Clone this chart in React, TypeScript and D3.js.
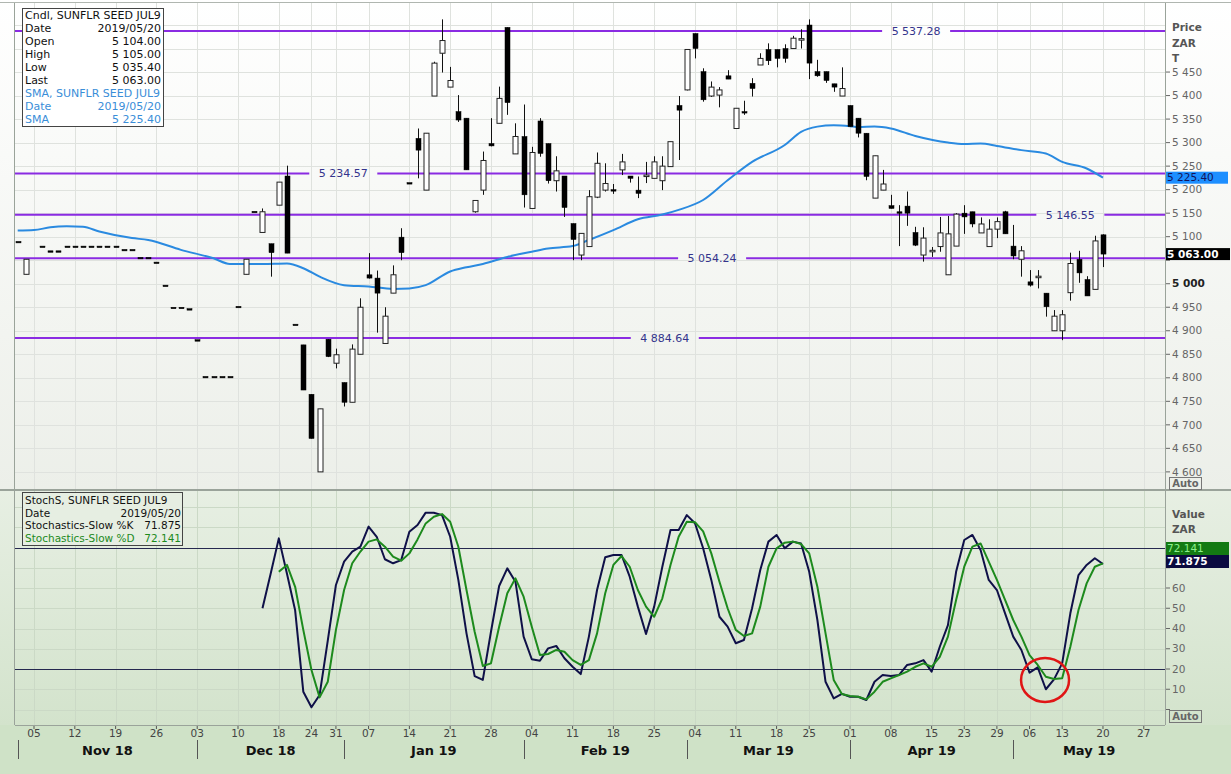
import React from "react";
import * as d3 from "d3";

// ---------- DATA ----------
const HOLIDAYS = ["2018-12-17", "2018-12-25", "2018-12-26", "2019-01-01", "2019-03-21", "2019-04-19", "2019-04-22", "2019-05-01", "2019-05-08"];
const FIRST_DAY = "2018-11-01";
const LAST_CALENDAR_DAY = "2019-06-07";

// Daily candles from 2018-11-01 (one entry per trading day; null = no trade)
const OPEN = [5090, 5020, null, 5080, 5070, 5070, 5080, 5080, 5080, 5080, 5080, 5080, 5080, 5073, 5073, 5056, 5056, 5046, 4997, 4950, 4950, 4947, 4881, 4803, 4803, 4803, 4803, 4952, 5020, 5154, 5109, 5085, 5167, 5229, 4914, 4870, 4765, 4600, 4882, 4831, 4790, 4748, 4850, 5019, 5012, 4873, 4980, 5099, 5215, 5309, 5199, 5399, 5490, 5418, 5366, 5352, 5153, 5199, 5298, 5341, 5545, 5276, 5313, 5160, 5346, 5298, 5219, 5229, 5128, 5061, 5079, 5184, 5199, 5200, 5242, 5229, 5199, 5228, 5224, 5219, 5249, 5379, 5412, 5532, 5451, 5399, 5401, 5442, 5330, 5366, 5426, 5465, 5498, 5498, 5500, 5500, 5518, 5550, 5451, 5451, 5425, 5399, 5379, 5352, 5320, 5182, 5199, 5166, 5153, 5165, 5109, 5061, 5070, 5079, 5019, 5080, 5150, 5153, 5108, 5079, 5116, 5153, 5080, 5052, 5004, 5015, 4980, 4900, 4900, 4981, 5052, 5009, 4988, 5104];
const HIGH = [5090, 5052, null, 5080, 5070, 5070, 5080, 5080, 5080, 5080, 5080, 5080, 5080, 5073, 5073, 5056, 5056, 5046, 4997, 4950, 4950, 4947, 4881, 4803, 4803, 4803, 4803, 4952, 5052, 5154, 5160, 5085, 5216, 5251, 4914, 4870, 4765, 4734, 4882, 4862, 4790, 4871, 4969, 5065, 5028, 4950, 5039, 5118, 5215, 5330, 5320, 5472, 5562, 5461, 5401, 5352, 5177, 5281, 5352, 5419, 5545, 5341, 5381, 5291, 5352, 5298, 5271, 5229, 5128, 5107, 5199, 5279, 5256, 5212, 5276, 5229, 5228, 5259, 5271, 5271, 5302, 5399, 5498, 5532, 5458, 5430, 5418, 5454, 5373, 5389, 5437, 5490, 5511, 5498, 5509, 5527, 5541, 5562, 5476, 5451, 5425, 5460, 5379, 5352, 5320, 5272, 5242, 5189, 5167, 5196, 5121, 5120, 5078, 5142, 5144, 5150, 5167, 5153, 5141, 5137, 5141, 5155, 5125, 5080, 5029, 5029, 4980, 4944, 4944, 5066, 5070, 5016, 5102, 5105];
const LOW = [5090, 5020, null, 5080, 5070, 5070, 5080, 5080, 5080, 5080, 5080, 5080, 5080, 5073, 5073, 5056, 5056, 5046, 4997, 4950, 4950, 4947, 4881, 4803, 4803, 4803, 4803, 4952, 5020, 5154, 5109, 5015, 5167, 5065, 4914, 4774, 4671, 4600, 4844, 4820, 4739, 4748, 4850, 5011, 4896, 4873, 4980, 5050, 5215, 5224, 5199, 5399, 5449, 5418, 5344, 5242, 5151, 5189, 5292, 5341, 5359, 5276, 5162, 5160, 5270, 5213, 5196, 5142, 5050, 5050, 5079, 5182, 5196, 5191, 5231, 5215, 5182, 5214, 5224, 5199, 5249, 5263, 5411, 5479, 5387, 5397, 5375, 5435, 5330, 5359, 5398, 5465, 5465, 5460, 5470, 5500, 5500, 5435, 5440, 5427, 5408, 5399, 5334, 5311, 5220, 5182, 5199, 5160, 5080, 5123, 5080, 5047, 5057, 5068, 5019, 5080, 5106, 5120, 5108, 5079, 5097, 5106, 5052, 5015, 4994, 4990, 4930, 4900, 4880, 4964, 5002, 4974, 4988, 5035.4];
const CLOSE = [5090, 5052, null, 5080, 5070, 5070, 5080, 5080, 5080, 5080, 5080, 5080, 5080, 5073, 5073, 5056, 5056, 5046, 4997, 4950, 4950, 4947, 4881, 4803, 4803, 4803, 4803, 4952, 5052, 5154, 5153, 5066, 5216, 5065, 4914, 4774, 4671, 4734, 4845, 4849, 4748, 4861, 4950, 5012, 4980, 4931, 5019, 5066, 5215, 5284, 5320, 5469, 5517, 5432, 5348, 5242, 5177, 5262, 5293, 5394, 5385, 5313, 5189, 5279, 5277, 5219, 5240, 5162, 5094, 5107, 5185, 5256, 5213, 5199, 5259, 5224, 5192, 5231, 5259, 5250, 5302, 5369, 5498, 5500, 5391, 5418, 5412, 5435, 5373, 5366, 5415, 5479, 5474, 5479, 5479, 5522, 5521, 5469, 5442, 5432, 5418, 5415, 5334, 5320, 5228, 5272, 5212, 5160, 5152, 5150, 5082, 5097, 5071, 5108, 5106, 5148, 5142, 5127, 5127, 5116, 5132, 5106, 5059, 5070, 4997, 5016, 4951, 4931, 4934, 5043, 5023, 4974, 5091, 5063];

// Simple moving average, read at these trading-day numbers
const SMA_DAY = [0, 2, 4, 6, 8, 10, 14, 16, 20, 24, 26, 30, 33, 35, 37, 40, 43, 46, 48, 50, 53, 55, 57, 60, 63, 65, 68, 70, 73, 76, 79, 81, 84, 87, 90, 94, 96, 98, 100, 102, 103, 105, 107, 110, 114, 116, 118, 120, 123, 126, 128, 131, 133];
const SMA_VAL = [5113, 5114, 5120, 5122, 5121, 5111, 5097, 5093, 5072, 5054, 5042, 5042, 5043, 5033, 5015, 4997, 4994, 4989, 4990, 4997, 5026, 5035, 5042, 5057, 5068, 5075, 5080, 5093, 5114, 5137, 5147, 5157, 5178, 5220, 5259, 5295, 5323, 5334, 5337, 5335, 5333, 5334, 5330, 5314, 5300, 5297, 5298, 5293, 5284, 5277, 5259, 5245, 5225.4];

// Slow stochastics
const K_START = 30;
const STOCH_K = [50, 67, 84.5, 67, 49, 8.8, 1.1, 7.2, 34, 61.5, 73, 78, 80.4, 90.3, 85.3, 74.2, 72.2, 73.8, 87.8, 91.1, 97.2, 97.2, 96, 85.3, 64, 37.6, 16.5, 14.6, 38.4, 61, 69.7, 63.1, 36, 24.8, 24.1, 30.2, 31.4, 25.3, 21.1, 17.5, 36, 59, 75.2, 76.3, 76.3, 65.6, 50.8, 37.3, 50.8, 70.5, 88.6, 88.6, 96, 92, 79.6, 64, 45.8, 40.9, 32.7, 34.3, 50, 68.9, 82.9, 86.2, 79.6, 82.9, 82, 68, 44.2, 13.7, 5.5, 7.7, 6.3, 6.3, 4.7, 13.7, 17, 16.5, 17, 22, 22.8, 24.4, 18.7, 31, 41.7, 68, 83.7, 86.2, 78.8, 64, 59, 47.5, 36, 29.4, 18.2, 20.8, 10, 14.9, 22.8, 47.5, 66.4, 71.4, 74.7, 71.875];
const D_START = 32;
const STOCH_D = [68, 71.4, 60.6, 39.3, 19.5, 6, 13.7, 39.3, 59, 72.2, 78, 82.9, 84, 80.4, 75.5, 73.5, 77.1, 84, 91.9, 95.2, 96.5, 92.7, 80.4, 59, 38.4, 21.5, 22.8, 40.9, 57.4, 64.8, 55.7, 40.9, 26.9, 27.4, 29.4, 28.5, 24.4, 22, 24.4, 37.6, 57.4, 71.4, 75.8, 70.5, 59, 50.8, 45.8, 54.9, 71.4, 85.3, 92.7, 92.5, 88, 77.1, 63.1, 50, 39.3, 36.3, 37.6, 50.8, 70.5, 79.6, 82.4, 82.9, 81.7, 77.1, 60.6, 37.6, 14.6, 7.7, 6.7, 6.3, 5, 8.8, 13.7, 15.4, 17, 18.7, 21.1, 22.8, 21.1, 26, 36, 54.1, 70.5, 80.4, 82, 73, 64, 54.1, 44.2, 36, 26.9, 22, 16.2, 15.1, 15.4, 31, 49.1, 62.3, 70.5, 72.141];

// Horizontal levels and where their labels sit (trading-day number)
const LEVELS = [5537.28, 5234.57, 5146.55, 5054.24, 4884.64];
const LEVEL_LABEL_DAY = [110.1, 39.9, 129, 85.1, 79.3];

// Highlight marker on the stochastic panel (trading-day number, value)
const MARK_DAY = 125.9;
const MARK_VAL = 14.6;

const PRICE_TICKS = d3.range(4600, 5451, 50);
const PRICE_TICKS_HIDDEN = [5050];
const STOCH_TICKS = [10, 20, 30, 40, 50, 60];
const STOCH_TICKS_HIDDEN = [0, 70, 80];
const STOCH_BANDS = [20, 80];

// ---------- LAYOUT ----------
const W = 1231, H = 774;
const L = 15, R = 1165;
const PT = 3, PB = 489; // price panel
const ST = 491, SB = 725; // stoch panel
const FONT = "'DejaVu Sans', Verdana, sans-serif";

const fmt = (v: number, dec = 2) => {
  const s = v.toFixed(dec);
  const [i, f] = s.split(".");
  const ii = i.replace(/\B(?=(\d{3})+(?!\d))/g, " ");
  return f ? ii + "." + f : ii;
};

function buildDays() {
  const hol = new Set(HOLIDAYS);
  const out: Date[] = [];
  const d = new Date(FIRST_DAY + "T00:00:00Z");
  const end = new Date(LAST_CALENDAR_DAY + "T00:00:00Z").getTime();
  while (d.getTime() <= end) {
    const wd = d.getUTCDay();
    const s = d.toISOString().slice(0, 10);
    if (wd !== 0 && wd !== 6 && !hol.has(s)) out.push(new Date(d.getTime()));
    d.setUTCDate(d.getUTCDate() + 1);
  }
  return out;
}

export default function App() {
  const days = buildDays();
  const x = d3.scaleLinear().domain([-0.33, 140.6]).range([L, R]);
  const yP = d3.scaleLinear().domain([4563.6, 5596.8]).range([PB, PT]);
  const yS = d3.scaleLinear().domain([-7.65, 107.9]).range([SB, ST]);

  const weekIdx: number[] = [];
  const monthIdx: number[] = [];
  days.forEach((d, i) => {
    if (i === 0) { monthIdx.push(0); return; }
    const p = days[i - 1];
    if (d.getUTCDay() < p.getUTCDay()) weekIdx.push(i);
    if (d.getUTCMonth() !== p.getUTCMonth()) monthIdx.push(i);
  });
  const months = monthIdx.map((mi, j) => {
    const x0 = x(mi);
    const x1 = Math.min(j + 1 < monthIdx.length ? x(monthIdx[j + 1]) : R, R);
    return { x0, x1, label: d3.utcFormat("%b %y")(days[mi]) };
  }).filter(m => m.x0 < R - 20);

  const smaLine = d3.line<number>().x((_, i) => x(SMA_DAY[i])).y(v => yP(v)).curve(d3.curveMonotoneX);
  const kLine = d3.line<number>().x((_, i) => x(K_START + i)).y(v => yS(v));
  const dLine = d3.line<number>().x((_, i) => x(D_START + i)).y(v => yS(v));

  const bw = 5;
  const last = CLOSE.length - 1;
  const smaLast = SMA_VAL[SMA_VAL.length - 1];
  const kLast = STOCH_K[STOCH_K.length - 1];
  const dLast = STOCH_D[STOCH_D.length - 1];

  return (
    <svg width={W} height={H} style={{ position: "absolute", left: 0, top: 0 }} fontFamily={FONT}>
      <defs>
        <linearGradient id="gP" x1="0" y1="0" x2="0" y2="1">
          <stop offset="0" stopColor="#ffffff" />
          <stop offset="1" stopColor="#ecefe9" />
        </linearGradient>
        <linearGradient id="gS" x1="0" y1="0" x2="0" y2="1">
          <stop offset="0" stopColor="#e7efe3" />
          <stop offset="1" stopColor="#d3e3cc" />
        </linearGradient>
        <clipPath id="cP"><rect x={L} y={PT} width={R - L} height={PB - PT} /></clipPath>
        <clipPath id="cS"><rect x={L} y={ST} width={R - L} height={SB - ST} /></clipPath>
      </defs>
      <rect x={0} y={0} width={W} height={H} fill="#cfe2c7" />
      <rect x={0} y={0} width={W} height={PB} fill="url(#gP)" />
      <rect x={0} y={ST} width={W} height={SB - ST} fill="url(#gS)" />

      {/* grid */}
      <g stroke="#dfe2de" strokeWidth={1}>
        {PRICE_TICKS.concat([5500, 5550]).map(t => (
          <line key={"hp" + t} x1={L} x2={R} y1={Math.round(yP(t)) + 0.5} y2={Math.round(yP(t)) + 0.5} />
        ))}
        {weekIdx.filter(i => x(i) < R).map(i => (
          <line key={"vp" + i} x1={Math.round(x(i)) + 0.5} x2={Math.round(x(i)) + 0.5} y1={PT} y2={PB} />
        ))}
      </g>
      <g stroke="#cbd9c6" strokeWidth={1}>
        {d3.range(0, 101, 10).map(t => (
          <line key={"hs" + t} x1={L} x2={R} y1={Math.round(yS(t)) + 0.5} y2={Math.round(yS(t)) + 0.5} />
        ))}
        {weekIdx.filter(i => x(i) < R).map(i => (
          <line key={"vs" + i} x1={Math.round(x(i)) + 0.5} x2={Math.round(x(i)) + 0.5} y1={ST} y2={SB} />
        ))}
      </g>

      {/* levels */}
      <g clipPath="url(#cP)">
        {LEVELS.map((lv, i) => {
          const cx = x(LEVEL_LABEL_DAY[i]);
          const yy = yP(lv);
          return (
            <g key={"lv" + i}>
              <line x1={L} x2={cx - 34} y1={yy} y2={yy} stroke="#8a2be2" strokeWidth={2} />
              <line x1={cx + 34} x2={R} y1={yy} y2={yy} stroke="#8a2be2" strokeWidth={2} />
              <text x={cx} y={yy} dy="0.35em" textAnchor="middle" fontSize={11} fill="#34348c">{fmt(lv)}</text>
            </g>
          );
        })}
      </g>

      <path d={smaLine(SMA_VAL) || ""} fill="none" stroke="#2a8ae0" strokeWidth={2} clipPath="url(#cP)" />

      {/* candles */}
      <g>
        {OPEN.map((o, i) => {
          if (o == null) return null;
          const h = HIGH[i] as number, l = LOW[i] as number, c = CLOSE[i] as number;
          const cx = Math.round(x(i)) + 0.5;
          const up = c > o;
          const yTop = yP(Math.max(o, c)), yBot = yP(Math.min(o, c));
          const bh = Math.max(yBot - yTop, 1.5);
          return (
            <g key={"c" + i}>
              {h !== l && <line x1={cx} x2={cx} y1={yP(h)} y2={yP(l)} stroke="#111" strokeWidth={1} />}
              <rect x={cx - bw / 2} y={yTop} width={bw} height={bh}
                fill={up ? "#ffffff" : "#000000"} stroke={up ? "#222" : "#000"} strokeWidth={up ? 1 : 0.5} />
            </g>
          );
        })}
      </g>

      {/* stochastics */}
      {STOCH_BANDS.map(b => (
        <line key={"b" + b} x1={L} x2={R} y1={Math.round(yS(b)) + 0.5} y2={Math.round(yS(b)) + 0.5} stroke="#25284f" strokeWidth={1} />
      ))}
      <g clipPath="url(#cS)">
        <path d={kLine(STOCH_K) || ""} fill="none" stroke="#0f1048" strokeWidth={2} strokeLinejoin="round" />
        <path d={dLine(STOCH_D) || ""} fill="none" stroke="#1d8a1d" strokeWidth={2} strokeLinejoin="round" />
      </g>
      <ellipse cx={x(MARK_DAY)} cy={yS(MARK_VAL)} rx={24} ry={22} fill="none" stroke="#e01515" strokeWidth={2.5} />

      {/* frames */}
      <line x1={L - 0.5} x2={L - 0.5} y1={PT} y2={SB} stroke="#9aa39a" />
      <line x1={R + 0.5} x2={R + 0.5} y1={PT} y2={SB} stroke="#9aa39a" />
      <line x1={0} x2={W} y1={PT - 0.5} y2={PT - 0.5} stroke="#b0b6b0" />
      <line x1={0} x2={W} y1={PB + 0.5} y2={PB + 0.5} stroke="#9aa39a" />
      <line x1={0} x2={W} y1={ST - 0.5} y2={ST - 0.5} stroke="#9aa39a" />
      <line x1={L} x2={R} y1={SB + 0.5} y2={SB + 0.5} stroke="#9aa39a" />

      {/* price axis */}
      <g fontSize={10.5}>
        {PRICE_TICKS_HIDDEN.map(t => (
          <line key={"ph" + t} x1={R + 1} x2={R + 5} y1={yP(t)} y2={yP(t)} stroke="#666" />
        ))}
        {PRICE_TICKS.filter(t => !PRICE_TICKS_HIDDEN.includes(t)).map(t => (
          <g key={"pt" + t}>
            <line x1={R + 1} x2={R + 5} y1={yP(t)} y2={yP(t)} stroke="#666" />
            <text x={R + 7} y={yP(t)} dy="0.35em" fill={t === 5000 ? "#222" : "#666"} fontWeight={t === 5000 ? "bold" : "normal"}>{fmt(t, 0)}</text>
          </g>
        ))}
        <text x={R + 7} y={27} dy="0.35em" fill="#555" fontWeight="bold">Price</text>
        <text x={R + 7} y={43} dy="0.35em" fill="#555" fontWeight="bold">ZAR</text>
        <text x={R + 7} y={58} dy="0.35em" fill="#555" fontWeight="bold">T</text>
        <rect x={R + 1} y={yP(smaLast) - 6} width={62} height={12} fill="#1e8fff" />
        <text x={R + 2} y={yP(smaLast)} dy="0.36em" fill="#14145a">{fmt(smaLast)}</text>
        <rect x={R + 1} y={yP(CLOSE[last] as number) - 6} width={64} height={12} fill="#000" />
        <text x={R + 2} y={yP(CLOSE[last] as number)} dy="0.36em" fill="#fff" fontWeight="bold">{fmt(CLOSE[last] as number)}</text>
        <rect x={R + 4.5} y={477.5} width={32} height={12} fill="none" stroke="#777" />
        <text x={R + 20.5} y={483.5} dy="0.36em" textAnchor="middle" fill="#666" fontWeight="bold" fontSize={10}>Auto</text>
      </g>

      {/* stoch axis */}
      <g fontSize={10.5}>
        {STOCH_TICKS_HIDDEN.map(t => (
          <line key={"sh" + t} x1={R + 1} x2={R + 5} y1={yS(t)} y2={yS(t)} stroke="#666" />
        ))}
        {STOCH_TICKS.map(t => (
          <g key={"st" + t}>
            <line x1={R + 1} x2={R + 5} y1={yS(t)} y2={yS(t)} stroke="#666" />
            <text x={R + 7} y={yS(t)} dy="0.35em" fill="#666">{t}</text>
          </g>
        ))}
        <text x={R + 7} y={514} dy="0.35em" fill="#555" fontWeight="bold">Value</text>
        <text x={R + 7} y={529} dy="0.35em" fill="#555" fontWeight="bold">ZAR</text>
        <rect x={R + 1} y={542} width={63} height={13} fill="#137a13" />
        <text x={R + 2} y={548.5} dy="0.36em" fill="#8cf08c">{dLast.toFixed(3)}</text>
        <rect x={R + 1} y={555} width={63} height={13} fill="#0b0b40" />
        <text x={R + 2} y={561.5} dy="0.36em" fill="#fff" fontWeight="bold">{kLast.toFixed(3)}</text>
        <rect x={R + 4.5} y={710.5} width={32} height={12} fill="none" stroke="#777" />
        <text x={R + 20.5} y={716.5} dy="0.36em" textAnchor="middle" fill="#666" fontWeight="bold" fontSize={10}>Auto</text>
      </g>

      {/* date axis */}
      <g>
        {weekIdx.filter(i => x(i) < R - 5).map(i => (
          <g key={"wk" + i}>
            <line x1={x(i)} x2={x(i)} y1={SB + 1} y2={SB + 4} stroke="#555" />
            <text x={x(i)} y={733} dy="0.35em" textAnchor="middle" fontSize={10.5} fill="#444">{d3.utcFormat("%d")(days[i])}</text>
          </g>
        ))}
        {months.map((m, j) => (
          <g key={"m" + j}>
            <line x1={Math.round(m.x0) + 0.5} x2={Math.round(m.x0) + 0.5} y1={740} y2={759} stroke="#555" />
            <text x={(m.x0 + m.x1) / 2} y={750} dy="0.35em" textAnchor="middle" fontSize={13} fontWeight="bold" fill="#111">{m.label}</text>
          </g>
        ))}
      </g>

      {/* legend price */}
      <g fontSize={11}>
        <rect x={22.5} y={8.5} width={141} height={118} fill="#fff" stroke="#444" />
        {[
          ["Cndl, SUNFLR SEED JUL9", "", "#111"],
          ["Date", "2019/05/20", "#111"],
          ["Open", fmt(OPEN[last] as number), "#111"],
          ["High", fmt(HIGH[last] as number), "#111"],
          ["Low", fmt(LOW[last] as number), "#111"],
          ["Last", fmt(CLOSE[last] as number), "#111"],
          ["SMA, SUNFLR SEED JUL9", "", "#3a8ed8"],
          ["Date", "2019/05/20", "#3a8ed8"],
          ["SMA", fmt(smaLast), "#3a8ed8"],
        ].map((r, i) => (
          <g key={"lg" + i}>
            <text x={25} y={15 + i * 13.05} dy="0.35em" fill={r[2]}>{r[0]}</text>
            <text x={161} y={15 + i * 13.05} dy="0.35em" textAnchor="end" fill={r[2]}>{r[1]}</text>
          </g>
        ))}
      </g>
      {/* legend stoch */}
      <g fontSize={10.5}>
        <rect x={22.5} y={492.5} width={160} height={53} fill="#e6eee2" stroke="#444" />
        {[
          ["StochS, SUNFLR SEED JUL9", "", "#111"],
          ["Date", "2019/05/20", "#111"],
          ["Stochastics-Slow %K", kLast.toFixed(3), "#111"],
          ["Stochastics-Slow %D", dLast.toFixed(3), "#1d8a1d"],
        ].map((r, i) => (
          <g key={"ls" + i}>
            <text x={25} y={500 + i * 12.9} dy="0.35em" fill={r[2]}>{r[0]}</text>
            <text x={181} y={500 + i * 12.9} dy="0.35em" textAnchor="end" fill={r[2]}>{r[1]}</text>
          </g>
        ))}
      </g>
    </svg>
  );
}
